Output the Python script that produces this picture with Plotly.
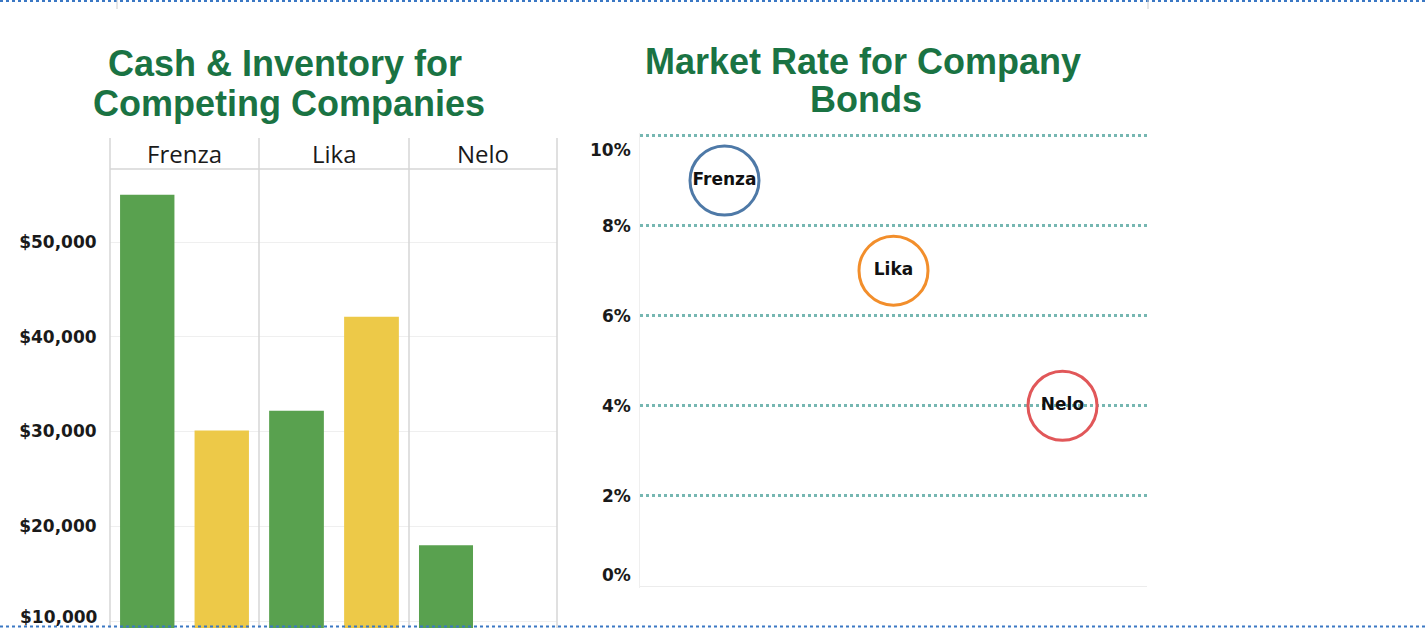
import plotly.graph_objects as go

# ---------------- data ----------------
companies = ["Frenza", "Lika", "Nelo"]
measures = ["Cash", "Inventory"]
cash = [55000, 32200, 18000]
inventory = [30100, 42100, None]
bond_rates = [0.09, 0.07, 0.04]

cash_ticks = [10000, 20000, 30000, 40000, 50000]
cash_tick_text = ["$10,000", "$20,000", "$30,000", "$40,000", "$50,000"]
rate_ticks = [0.0, 0.02, 0.04, 0.06, 0.08, 0.10]
rate_tick_text = ["0%", "2%", "4%", "6%", "8%", "10%"]

# ---------------- styles ----------------
W, H = 1428, 628
GREEN = "#59a14f"
YELLOW = "#edc948"
TITLE = "#1a7343"
CIRCLE_COLORS = ["#4e79a7", "#f28e2b", "#e15759"]
TEAL = "#76b7b2"
BORDER = "#d6d6d6"
TICK_FONT = dict(family="DejaVu Sans", size=17, color="#1a1a1a", weight="bold")


def px_x(p):
    return p / W


def px_y(p):
    return 1 - p / H


fig = go.Figure()

# ---------- left: panels of bars ----------
panel_edges = [110, 259, 409, 557]
for i, comp in enumerate(companies):
    xa = "x" if i == 0 else f"x{i + 1}"
    fig.add_trace(go.Bar(
        x=measures, y=[cash[i], inventory[i]],
        marker=dict(color=[GREEN, YELLOW], line=dict(width=0)),
        xaxis=xa, yaxis="y", showlegend=False,
        hovertemplate=comp + " %{x}: $%{y:,.0f}<extra></extra>",
    ))

# ---------- right: bond rate circles ----------
fig.add_trace(go.Scatter(
    x=companies, y=bond_rates, mode="markers+text",
    text=companies, textposition="middle center",
    textfont=dict(family="DejaVu Sans", size=17, color="#111111", weight="bold"),
    marker=dict(size=69, color="rgba(0,0,0,0)",
                line=dict(color=CIRCLE_COLORS, width=3)),
    xaxis="x4", yaxis="y2", showlegend=False, cliponaxis=False,
    hovertemplate="%{x}: %{y:.0%}<extra></extra>",
))

ydom_left = [0, px_y(169)]
layout = dict(
    width=W, height=H,
    margin=dict(l=0, r=0, t=0, b=0),
    paper_bgcolor="white", plot_bgcolor="white",
    bargap=0.27,
    yaxis=dict(
        domain=ydom_left, range=[9261, 57705],
        tickvals=cash_ticks, ticktext=cash_tick_text,
        tickfont=TICK_FONT,
        ticks="outside", ticklen=9, tickcolor="rgba(0,0,0,0)",
        showgrid=True, gridcolor="#efefef", gridwidth=1,
        zeroline=False, showline=False, anchor="x",
    ),
    yaxis2=dict(
        domain=[px_y(588.25), px_y(133.25)], range=[-0.0005, 0.1005],
        tickvals=rate_ticks[1:], showticklabels=False,
        showgrid=True, gridcolor=TEAL, gridwidth=3, griddash="dot",
        zeroline=True, zerolinecolor="#ececec", zerolinewidth=1,
        showline=True, linecolor="#efefef", linewidth=1,
        anchor="x4",
    ),
    xaxis4=dict(
        domain=[px_x(640), px_x(1147)], range=[-0.5, 2.5],
        showticklabels=False, showgrid=False, zeroline=False,
        anchor="y2", type="category", categoryorder="array", categoryarray=companies,
    ),
)
for i in range(3):
    key = "xaxis" if i == 0 else f"xaxis{i + 1}"
    layout[key] = dict(
        domain=[px_x(panel_edges[i]), px_x(panel_edges[i + 1])],
        range=[-0.5, 1.5], showticklabels=False, showgrid=False,
        zeroline=False, anchor="y", type="category",
    )
fig.update_layout(**layout)

annotations = []
# lowest cash tick label: plotly hides it because it touches the page edge,
# so it is written as an annotation at the same axis value
annotations.append(dict(
    text=cash_tick_text[0], xref="paper", x=px_x(100), yref="y", y=cash_ticks[0],
    yshift=4, showarrow=False, xanchor="right", yanchor="middle", font=TICK_FONT,
))
# panel headers
for i, comp in enumerate(companies):
    xa = "x" if i == 0 else f"x{i + 1}"
    annotations.append(dict(
        text=comp, xref=f"{xa} domain", x=0.5, yref="paper", y=px_y(153),
        showarrow=False, xanchor="center", yanchor="middle",
        font=dict(family="Open Sans", size=24, color="#1a1a1a"),
    ))
# right tick labels (Tableau-style, ends pulled inward)
for v, t in zip(rate_ticks, rate_tick_text):
    shift = -14.5 if v == max(rate_ticks) else (11 if v == 0 else 0)
    annotations.append(dict(
        text=t, xref="paper", x=px_x(633), yref="y2", y=v, yshift=shift,
        showarrow=False, xanchor="right", yanchor="middle", font=TICK_FONT,
    ))
# titles
title_font = dict(family="Liberation Sans, Arial", size=36, color=TITLE, weight="bold")
for txt, cx, cy in [("Cash & Inventory for", 285, 64), ("Competing Companies", 289, 103),
                    ("Market Rate for Company", 862.5, 61), ("Bonds", 866.5, 100)]:
    annotations.append(dict(
        text=txt, xref="paper", yref="paper", x=px_x(cx), y=px_y(cy),
        showarrow=False, xanchor="center", yanchor="middle", font=title_font,
    ))
fig.update_layout(annotations=annotations)

shapes = []
# panel borders
for e in panel_edges:
    shapes.append(dict(type="line", xref="paper", yref="paper",
                       x0=px_x(e), x1=px_x(e), y0=px_y(138), y1=0,
                       line=dict(color=BORDER, width=1.5)))
shapes.append(dict(type="line", xref="paper", yref="paper",
                   x0=px_x(110), x1=px_x(557), y0=px_y(169), y1=px_y(169),
                   line=dict(color=BORDER, width=1.5)))
# page dotted borders
for yy in (1, 626.5):
    shapes.append(dict(type="line", xref="paper", yref="paper",
                       x0=0, x1=1, y0=px_y(yy), y1=px_y(yy),
                       line=dict(color="#3b78c4", width=2, dash="dot")))
for xx in (117, 1148):
    shapes.append(dict(type="line", xref="paper", yref="paper",
                       x0=px_x(xx), x1=px_x(xx), y0=1, y1=px_y(9),
                       line=dict(color="#cccccc", width=1)))
fig.update_layout(shapes=shapes)

post = (
    "document.documentElement.style.overflow='hidden';"
    "document.body.style.margin='0';"
    "document.body.style.overflow='hidden';"
)
fig.write_html(
    "out.html",
    config={"displayModeBar": False},
    post_script=post,
)
